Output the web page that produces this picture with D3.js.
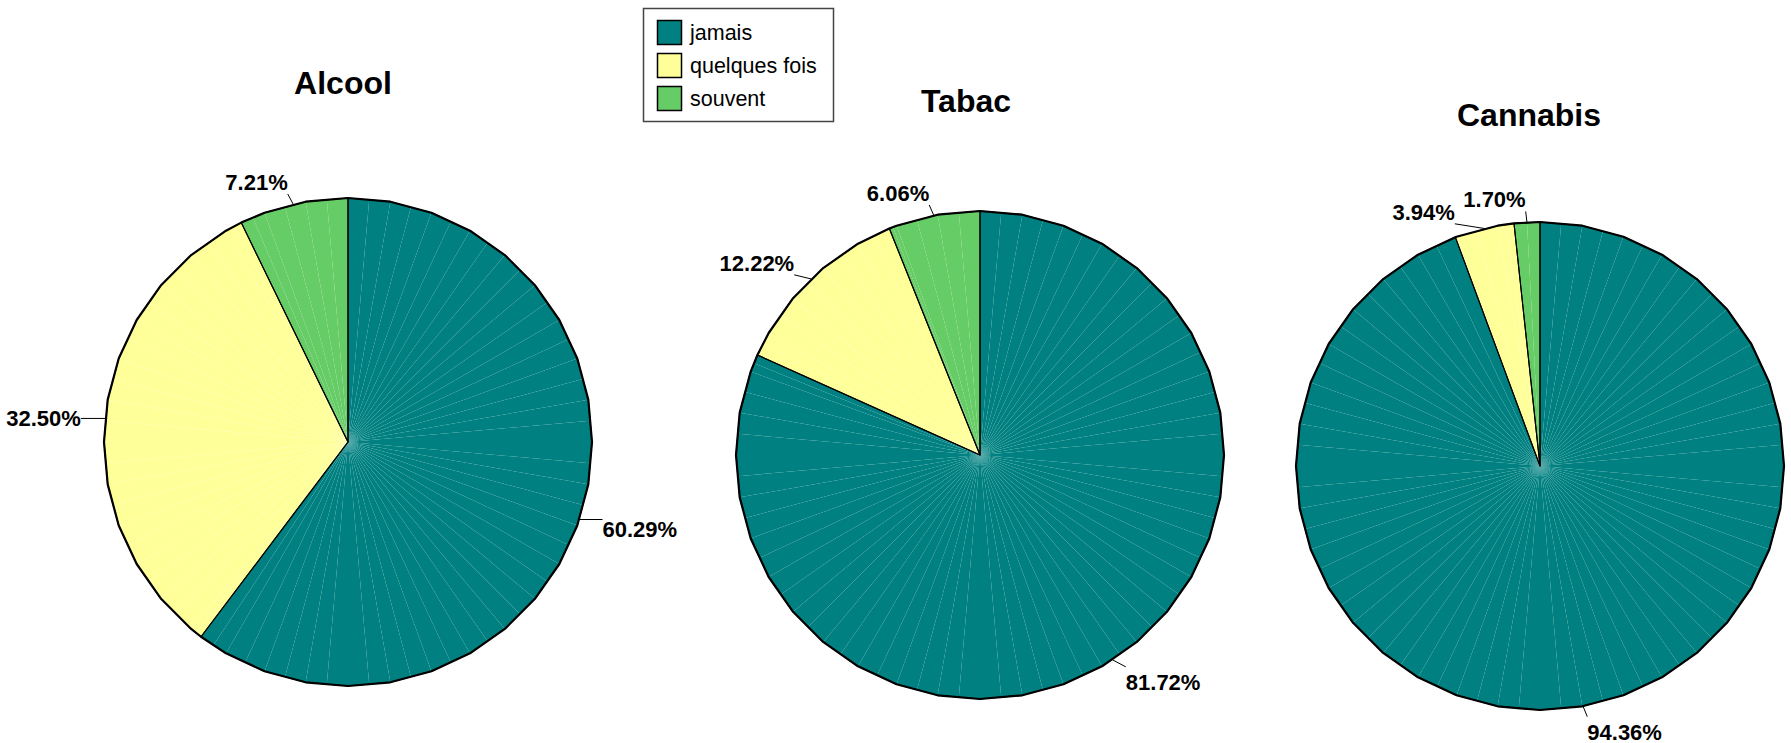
<!DOCTYPE html>
<html>
<head>
<meta charset="utf-8">
<script src="https://cdn.jsdelivr.net/npm/d3@7"></script>
<style>
  html, body { margin: 0; padding: 0; background: #ffffff; }
  svg { display: block; }
</style>
</head>
<body>
<svg id="chart" width="1791" height="743"></svg>
<script>
// ---- data ----
const substances = ["Alcool", "Tabac", "Cannabis"];
const categories = ["jamais", "quelques fois", "souvent"];
const alcoolValues = [60.29, 32.50, 7.21];
const tabacValues = [81.72, 12.22, 6.06];
const cannabisValues = [94.36, 3.94, 1.70];
const categoryColors = ["#008080", "#FFFF99", "#66CC66"];

// ---- layout ----
const W = 1791, H = 743;
const R = 244;
const layout = [
  { cx: 348, cy: 442, tx: 343, ty: 94 },
  { cx: 980, cy: 455, tx: 966, ty: 112 },
  { cx: 1540, cy: 466, tx: 1529, ty: 125.6 }
];
const seriesList = [alcoolValues, tabacValues, cannabisValues];
const FONT = "'Liberation Sans', Arial, Helvetica, sans-serif";
const GRID = Math.PI / 18; // outline vertex spacing (10 deg)

const svg = d3.select("#chart");
svg.append("rect").attr("width", W).attr("height", H).attr("fill", "#fff");

const color = d3.scaleOrdinal().domain(categories).range(categoryColors);
const pieGen = d3.pie().sort(null).value(d => d.v).startAngle(0).endAngle(2 * Math.PI);

function pt(cx, cy, r, a) { return [cx + r * Math.sin(a), cy - r * Math.cos(a)]; }

function rimAngles(a0, a1) {
  const out = [a0];
  let k = Math.floor(a0 / GRID + 1e-9) + 1;
  while (k * GRID < a1 - 1e-6) { out.push(k * GRID); k++; }
  out.push(a1);
  return out;
}

seriesList.forEach((vals, pi) => {
  const L = layout[pi];
  const g = svg.append("g");
  const data = vals.map((v, i) => ({ v, cat: categories[i] }));
  const arcs = pieGen(data);
  const lineGen = d3.line();

  const rimAll = [];
  const sliceRims = arcs.map(a => {
    const angs = rimAngles(a.startAngle, a.endAngle);
    return angs.map(t => pt(L.cx, L.cy, R, t));
  });

  // filled wedges made of many thin triangles (gives the faint seams)
  arcs.forEach((a, i) => {
    const rim = sliceRims[i];
    const sub = [];
    for (let k = 0; k < rim.length - 1; k++) {
      const p = rim[k], q = rim[k + 1];
      sub.push(p);
      sub.push([(p[0] + q[0]) / 2, (p[1] + q[1]) / 2]);
    }
    sub.push(rim[rim.length - 1]);
    for (let k = 0; k < sub.length - 1; k++) {
      g.append("path")
        .attr("d", lineGen([[L.cx, L.cy], sub[k], sub[k + 1]]) + "Z")
        .attr("fill", color(a.data.cat))
        .attr("stroke", "none");
    }
  });

  // slice borders
  arcs.forEach((a, i) => {
    const rim = sliceRims[i];
    g.append("path")
      .attr("d", lineGen([[L.cx, L.cy], ...rim]) + "Z")
      .attr("fill", "none")
      .attr("stroke", "#000")
      .attr("stroke-width", 1.1)
      .attr("stroke-linejoin", "round");
    rim.forEach((p, k) => { if (k > 0 || i === 0) rimAll.push(p); });
  });

  // outer rim
  g.append("path")
    .attr("d", lineGen(rimAll) + "Z")
    .attr("fill", "none")
    .attr("stroke", "#000")
    .attr("stroke-width", 2.2)
    .attr("stroke-linejoin", "round");

  // title
  g.append("text")
    .attr("x", L.tx).attr("y", L.ty)
    .attr("text-anchor", "middle")
    .attr("font-family", FONT)
    .attr("font-weight", "bold")
    .attr("font-size", 32)
    .attr("fill", "#000")
    .text(substances[pi]);

  // labels
  const labels = arcs.map(a => {
    const mid = (a.startAngle + a.endAngle) / 2;
    const anc = pt(L.cx, L.cy, R * 1.1, mid);
    const left = Math.sin(mid) < 0;
    const t = g.append("text")
      .attr("font-family", FONT)
      .attr("font-weight", "bold")
      .attr("font-size", 22)
      .attr("fill", "#000")
      .attr("text-anchor", left ? "end" : "start")
      .text(a.data.v.toFixed(2) + "%");
    const w = t.node().getComputedTextLength();
    return { t, mid, x: anc[0], y: anc[1] + 9.5, left, w };
  });
  function box(l) {
    const x0 = l.left ? l.x - l.w : l.x;
    return { x0, x1: x0 + l.w, y0: l.y - 23, y1: l.y + 4 };
  }
  const PAD = 4;
  for (let i = 0; i < labels.length; i++) {
    for (let j = i + 1; j < labels.length; j++) {
      let guard = 0;
      while (guard++ < 400) {
        const A = box(labels[i]), B = box(labels[j]);
        const ov = A.x0 - PAD < B.x1 + PAD && A.x1 + PAD > B.x0 - PAD && A.y0 < B.y1 && A.y1 > B.y0;
        if (!ov) break;
        const m = labels[i].mid;
        labels[i].x += -Math.cos(m) * 0.5;
        labels[i].y += -Math.sin(m) * 0.5;
      }
    }
  }
  labels.forEach(l => {
    l.t.attr("x", l.x).attr("y", l.y);
    const b = box(l);
    const rp = pt(L.cx, L.cy, R, l.mid);
    const ex = Math.max(b.x0, Math.min(b.x1, rp[0]));
    const ey = Math.max(b.y0, Math.min(b.y1, rp[1]));
    g.append("line")
      .attr("x1", rp[0]).attr("y1", rp[1])
      .attr("x2", ex).attr("y2", ey)
      .attr("stroke", "#000").attr("stroke-width", 1);
  });
});

// ---- legend ----
const lg = svg.append("g");
lg.append("rect")
  .attr("x", 643.5).attr("y", 8.5).attr("width", 190).attr("height", 113)
  .attr("fill", "#fff").attr("stroke", "#444").attr("stroke-width", 1.5);
categories.forEach((c, i) => {
  const y = 20.5 + i * 33;
  lg.append("rect")
    .attr("x", 657.5).attr("y", y).attr("width", 24).attr("height", 24)
    .attr("fill", color(c)).attr("stroke", "#000").attr("stroke-width", 1.5);
  lg.append("text")
    .attr("x", 690).attr("y", y + 12 + 7.5)
    .attr("font-family", FONT)
    .attr("font-size", 21.5)
    .attr("fill", "#000")
    .text(c);
});
</script>
</body>
</html>
